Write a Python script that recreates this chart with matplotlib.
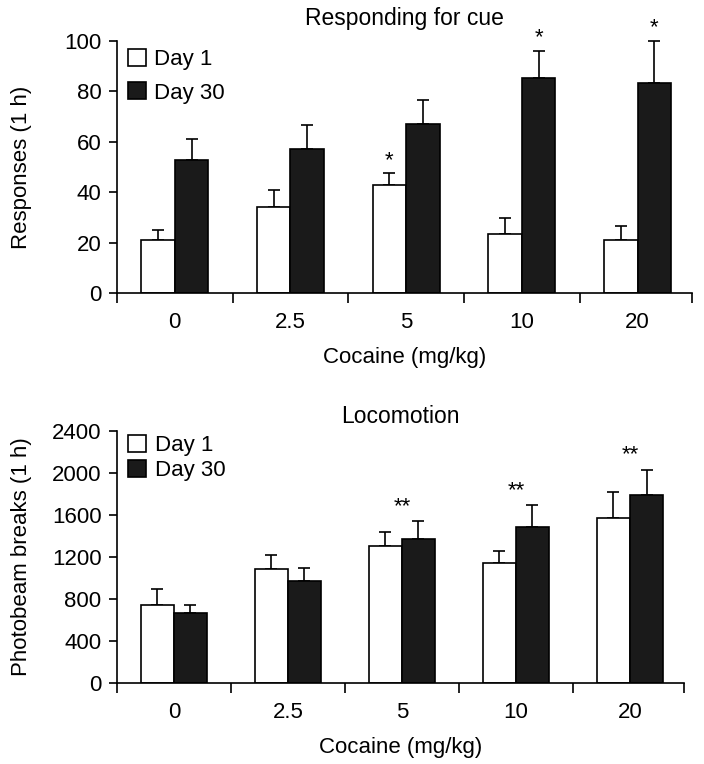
import matplotlib.pyplot as plt
import numpy as np

plt.rcParams['font.family'] = ['Liberation Sans', 'DejaVu Sans']
fs = 16

doses = ['0', '2.5', '5', '10', '20']

# responding for cue
cue_day1 = [21, 34, 43, 23.3, 21]
cue_day1_err = [3.8, 7, 4.5, 6.6, 5.5]
cue_day30 = [52.6, 57.2, 66.9, 85.4, 83.2]
cue_day30_err = [8.4, 9.6, 9.5, 10.6, 16.8]
cue_stars = [('', 0), ('', 0), ('*', 1), ('*', 2), ('*', 2)]

# locomotion
loco_day1 = [745, 1084, 1303, 1138, 1573]
loco_day1_err = [149, 133, 133, 114, 244]
loco_day30 = [669, 967, 1373, 1481, 1788]
loco_day30_err = [76, 130, 165, 209, 241]
loco_stars = ['', '', '**', '**', '**']


def draw(ax, d1, e1, d30, e30, ymax, yticks, ylabel, title, tpad, lspace, lcx, ly):
    x = np.arange(len(doses))
    w = 0.29
    ax.bar(x - w / 2, d1, w, color='white', edgecolor='black', linewidth=1.2, label='Day 1', zorder=2)
    ax.bar(x + w / 2, d30, w, color='#1a1a1a', edgecolor='black', linewidth=1.2, label='Day 30', zorder=2)
    ax.errorbar(x - w / 2, d1, yerr=[np.zeros(len(d1)), e1], fmt='none', ecolor='black',
                elinewidth=1.2, capsize=4, capthick=1.2, clip_on=False, zorder=1)
    ax.errorbar(x + w / 2, d30, yerr=[np.zeros(len(d30)), e30], fmt='none', ecolor='black',
                elinewidth=1.2, capsize=4, capthick=1.2, clip_on=False, zorder=1)
    ax.set_xlim(-0.5, 4.47)
    ax.set_ylim(0, ymax)
    ax.set_yticks(yticks)
    ax.tick_params(axis='y', labelsize=fs, length=6, width=1.2, direction='out', pad=5)
    ax.set_xticks([-0.5, 0.5, 1.5, 2.5, 3.5, 4.47])
    ax.set_xticklabels([])
    ax.set_xticks(x, minor=True)
    ax.set_xticklabels(doses, minor=True, fontsize=fs)
    ax.tick_params(axis='x', which='major', length=7, width=1.2, direction='out')
    ax.tick_params(axis='x', which='minor', length=0, pad=14)
    for s in ['top', 'right']:
        ax.spines[s].set_visible(False)
    for s in ['left', 'bottom']:
        ax.spines[s].set_linewidth(1.2)
    ax.set_ylabel(ylabel, fontsize=fs)
    ax.yaxis.set_label_coords(lcx, 0.5)
    ax.set_xlabel('Cocaine (mg/kg)', fontsize=fs, labelpad=10)
    ax.set_title(title, fontsize=fs + 0.5, pad=tpad)
    ax.legend(loc='upper left', bbox_to_anchor=(-0.008, ly), frameon=False, fontsize=fs,
              handlelength=0.8, handleheight=0.8, handletextpad=0.4, labelspacing=lspace,
              borderaxespad=0.3)
    return x, w


fig = plt.figure(figsize=(7.04, 7.64), dpi=100)
ax1 = fig.add_axes([0.166, 0.6165, 0.817, 0.33])
ax2 = fig.add_axes([0.166, 0.106, 0.805, 0.33])

x, w = draw(ax1, cue_day1, cue_day1_err, cue_day30, cue_day30_err, 100, [0, 20, 40, 60, 80, 100],
            'Responses (1 h)', 'Responding for cue', 11.5, 0.55, -0.148, 1.03)
for i, (s, which) in enumerate(cue_stars):
    if which == 1:
        ax1.text(x[i] - w / 2, cue_day1[i] + cue_day1_err[i] + 1.0, s, ha='center', va='bottom', fontsize=fs)
    elif which == 2:
        ax1.text(x[i] + w / 2, cue_day30[i] + cue_day30_err[i] + 1.0, s, ha='center', va='bottom',
                 fontsize=fs, clip_on=False)

x, w = draw(ax2, loco_day1, loco_day1_err, loco_day30, loco_day30_err, 2400,
            [0, 400, 800, 1200, 1600, 2000, 2400], 'Photobeam breaks (1 h)', 'Locomotion',
            6, 0.15, -0.150, 1.045)
for i, s in enumerate(loco_stars):
    if s:
        top = max(loco_day1[i] + loco_day1_err[i], loco_day30[i] + loco_day30_err[i])
        ax2.text(x[i], top + 40, s, ha='center', va='bottom', fontsize=fs)

fig.savefig('out.png', dpi=100)
